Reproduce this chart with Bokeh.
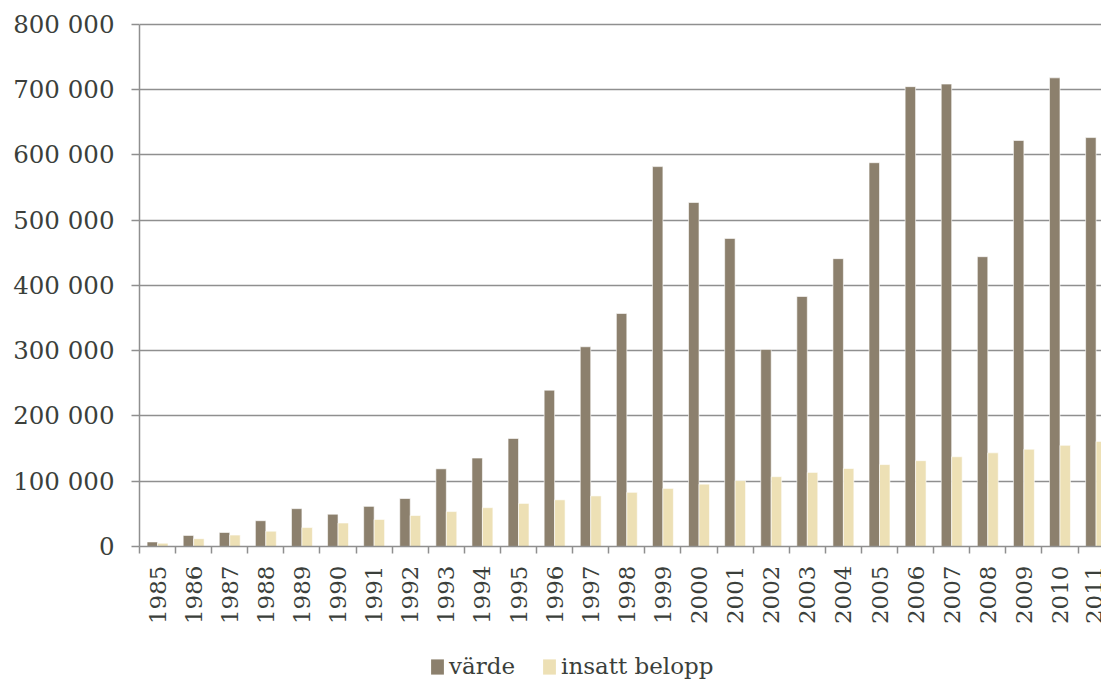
import math
import numpy as np
from bokeh.plotting import figure
from bokeh.layouts import column
from bokeh.models import (ColumnDataSource, Range1d, FixedTicker, Legend, LegendItem)
from bokeh.transform import dodge
from bokeh.embed import file_html
from bokeh.resources import INLINE

years = list(range(1985, 2012))
varde = [7000, 17000, 21500, 39500, 58000, 49500, 61500, 73500, 119000, 135500,
         165500, 239500, 306000, 357000, 582000, 527000, 472000, 302000, 383000,
         441000, 588000, 704500, 708500, 444000, 622000, 718000, 626500]
insatt = [5000, 12000, 17500, 23500, 29000, 36000, 41500, 47500, 53500, 59500,
          66000, 71500, 77500, 83000, 89000, 95500, 101000, 107000, 113500,
          119500, 125500, 131500, 137500, 143500, 149000, 155000, 161000]
y_ticks = list(range(0, 800001, 100000))
series_labels = ["värde", "insatt belopp"]

FONT = "DejaVu Serif"
TXT = "#3b3f3b"
GRID = "#8f8f8f"
C_VARDE = "#8c806d"
C_INSATT = "#ede0b5"

n = len(years)
centers = (np.arange(n) + 0.5).tolist()
src = ColumnDataSource(dict(x=centers, varde=varde, insatt=insatt))

p = figure(width=1101, height=646, output_backend="svg", toolbar_location=None,
           x_range=Range1d(0, 26.65), y_range=Range1d(0, 812000),
           min_border_left=139, min_border_right=0, min_border_top=16,
           min_border_bottom=100)
p.outline_line_color = None
p.background_fill_color = "white"
p.border_fill_color = "white"

bar_kw = dict(line_color="white", line_alpha=0.6, line_width=1)
p.vbar(x=dodge('x', -0.145), top='varde', width=0.29, source=src,
       fill_color=C_VARDE, **bar_kw)
p.vbar(x=dodge('x', 0.145), top='insatt', width=0.29, source=src,
       fill_color=C_INSATT, **bar_kw)

# y axis
p.yaxis.ticker = FixedTicker(ticks=y_ticks)
p.yaxis.major_label_overrides = {v: f"{v:,}".replace(",", " ") for v in y_ticks}
p.yaxis.bounds = (0, 800000)
p.yaxis.axis_line_color = GRID
p.yaxis.axis_line_width = 1.5
p.yaxis.major_tick_line_color = GRID
p.yaxis.major_tick_line_width = 1.5
p.yaxis.major_tick_out = 8
p.yaxis.major_tick_in = 0
p.yaxis.minor_tick_line_color = None
p.yaxis.major_label_standoff = 17
p.yaxis.major_label_text_font = FONT
p.yaxis.major_label_text_font_size = "24.5px"
p.yaxis.major_label_text_color = TXT

# x axis
p.xaxis.ticker = FixedTicker(ticks=centers, minor_ticks=list(range(0, n)))
p.xaxis.major_label_overrides = {c: str(y) for c, y in zip(centers, years)}
p.xaxis.major_label_orientation = math.pi / 2
p.xaxis.axis_line_color = GRID
p.xaxis.axis_line_width = 1.5
p.xaxis.major_tick_line_color = None
p.xaxis.major_tick_out = 7
p.xaxis.major_tick_in = 0
p.xaxis.minor_tick_line_color = GRID
p.xaxis.minor_tick_line_width = 1.5
p.xaxis.minor_tick_out = 7
p.xaxis.minor_tick_in = 0
p.xaxis.major_label_standoff = 12
p.xaxis.major_label_text_font = FONT
p.xaxis.major_label_text_font_size = "23px"
p.xaxis.major_label_text_color = TXT

p.xgrid.grid_line_color = None
p.ygrid.ticker = FixedTicker(ticks=y_ticks)
p.ygrid.grid_line_color = GRID
p.ygrid.grid_line_width = 1.5

# legend strip below the chart (key glyphs only: zero-height bars)
lg = figure(width=1101, height=33, output_backend="svg", toolbar_location=None,
            x_range=Range1d(0, 1), y_range=Range1d(0, 1),
            min_border=0, min_border_left=0, min_border_right=0,
            min_border_top=0, min_border_bottom=0)
lg.axis.visible = False
lg.grid.grid_line_color = None
lg.outline_line_color = None
lr1 = lg.vbar(x=[0.5], top=[0], bottom=[0], width=0, fill_color=C_VARDE, line_color=None)
lr2 = lg.vbar(x=[0.5], top=[0], bottom=[0], width=0, fill_color=C_INSATT, line_color=None)

legend = Legend(items=[LegendItem(label=series_labels[0], renderers=[lr1]),
                       LegendItem(label=series_labels[1], renderers=[lr2])],
                orientation="horizontal", location=(290, 0))
legend.padding = 0
legend.margin = 0
legend.spacing = 26
legend.glyph_width = 16
legend.glyph_height = 19
legend.label_standoff = 4
legend.label_text_font = FONT
legend.label_text_font_size = "23px"
legend.label_text_color = TXT
legend.border_line_color = None
legend.background_fill_alpha = 0
lg.add_layout(legend, "center")

open("out.html", "w").write(file_html(column(p, lg, spacing=0), INLINE))
